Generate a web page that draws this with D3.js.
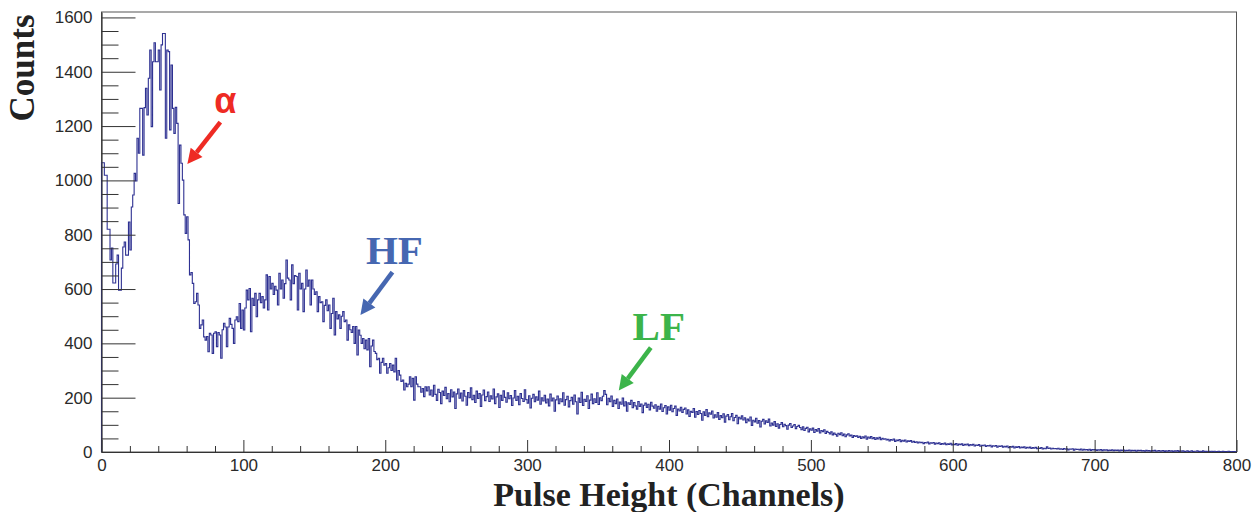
<!DOCTYPE html>
<html>
<head>
<meta charset="utf-8">
<script src="https://cdn.jsdelivr.net/npm/d3@7"></script>
<style>
  html, body { margin: 0; padding: 0; background: #fff; }
  svg { display: block; }
</style>
</head>
<body>
<svg id="chart" width="1253" height="512"></svg>
<script>
// ---------------- data ----------------
const binWidth = 1; // channels per bin
const counts = [
1065,1065,1019,1019,820,820,707,751,622,622,
692,725,596,596,677,755,773,725,725,847,
744,902,946,1026,998,1155,1100,1265,1265,1093,
1268,1339,1241,1376,1480,1198,1437,1507,1437,1437,
1480,1333,1499,1541,1541,1155,1480,1474,1186,1425,
1265,1173,1269,1210,915,1130,1063,1001,873,805,
866,781,652,661,621,547,553,584,541,455,
468,486,424,412,425,369,437,431,363,437,
443,388,440,431,345,450,474,460,388,460,
492,470,455,400,486,498,480,547,455,523,
449,530,596,560,602,443,566,540,584,498,
560,584,550,572,530,560,652,523,646,600,
621,580,610,596,541,658,600,633,566,620,
707,640,633,560,689,620,650,646,523,658,
600,621,517,600,670,610,633,541,633,600,
580,590,517,572,550,553,480,540,560,520,
541,455,510,566,431,517,490,505,455,500,
517,480,486,412,468,450,440,462,400,462,
357,449,430,400,418,380,412,376,418,314,
390,412,370,363,340,345,290,330,345,320,
326,290,310,326,300,320,295,345,265,300,
283,260,265,228,253,240,250,277,240,271,
191,277,250,240,240,220,234,204,240,225,
240,210,
228,205,246,212,190,231,219,178,224,208,238,196,215,185,229,203,221,160,214,232,
198,217,188,226,205,172,219,200,236,193,209,182,224,197,215,168,210,228,189,204,
221,186,207,195,232,178,203,214,164,209,190,225,201,183,218,196,208,171,199,226,
190,205,174,215,197,186,229,193,180,207,162,198,212,185,203,191,224,176,200,188,
209,181,195,170,213,188,199,150,192,206,178,196,185,218,172,193,205,166,189,201,
176,210,185,140,199,182,220,171,194,186,207,160,191,213,178,196,182,218,175,200,
189,205,226,212,174,198,185,206,168,190,178,195,160,184,176,199,170,185,150,181,
175,190,163,182,170,158,186,168,177,145,172,180,164,176,155,183,169,161,174,150,
168,158,177,149,163,171,140,166,154,172,148,160,169,135,158,151,165,146,157,162,
140,155,131,150,146,160,128,149,138,153,142,117,148,135,156,130,144,139,151,125,
137,128,145,120,134,126,141,110,132,138,119,130,142,115,127,135,104,128,122,133,
118,126,108,121,114,129,98,117,111,124,106,116,92,113,120,103,115,109,121,96,
107,99,112,94,104,88,101,108,93,102,97,84,99,105,90,96,101,86,94,98,
90,82,93,79,87,91,74,85,80,88,72,83,77,86,70,79,75,82,68,76,
72,66,74,63,70,65,58,69,64,71,60,66,56,63,67,59,62,54,61,57,
60,54,58,50,56,52,59,47,55,51,57,49,53,46,52,48,54,45,50,47,
49,44,47,41,46,43,48,39,44,42,46,38,43,40,44,37,41,39,42,36,
39,35,38,33,37,34,36,31,35,33,37,30,34,32,35,29,33,31,34,28,
31,29,33,27,30,28,32,26,29,27,31,25,29,27,30,24,28,26,29,23,
27,25,28,22,26,24,27,21,25,23,26,20,24,22,25,19,23,21,24,18,
22,20,23,18,21,19,22,16,20,18,21,15,19,17,20,15,18,16,19,14,
17,15,18,13,16,14,17,12,15,13,16,11,14,12,19,13,15,11,14,12,
13,11,14,10,12,9,13,10,12,8,11,10,12,7,11,9,10,8,11,7,
10,8,9,7,10,6,9,8,9,6,8,7,9,5,8,7,8,5,7,6,
8,5,7,6,7,4,7,6,7,4,6,5,7,4,6,5,6,3,6,5,
6,4,5,3,6,4,5,3,5,4,6,3,4,5,3,4,5,2,4,3,
5,3,4,2,4,3,5,2,4,3,4,2,3,4,2,3,4,2,3,3,
4,2,3,2,4,2,3,1,3,2,3,2,3,1,2,3,2,1,3,2,2,1,3,2,1,2,2,1
];
const xTickValues = [0, 100, 200, 300, 400, 500, 600, 700, 800];
const yTickValues = [0, 200, 400, 600, 800, 1000, 1200, 1400, 1600];
const xTitle = "Pulse Height (Channels)";
const yTitle = "Counts";
const annoText   = ["α", "HF", "LF"];
const annoColor  = ["#ee2b24", "#4667b1", "#3cb44a"];
// arrow tip positions in data coordinates [channel, counts]
const annoTipCh  = [60.5, 182.5, 364.6];
const annoTipCnt = [1060, 504, 226];

// ---------------- layout ----------------
const svg = d3.select("#chart");
const x = d3.scaleLinear().domain([0, 800]).range([101.5, 1236.5]);
const y = d3.scaleLinear().domain([0, 1620]).range([452, 12]);

// frame
svg.append("rect")
  .attr("x", x(0)).attr("y", y(1620))
  .attr("width", x(800) - x(0)).attr("height", y(0) - y(1620))
  .attr("fill", "none").attr("stroke", "#555").attr("stroke-width", 1);

// histogram
const pts = [[0, 0]];
counts.forEach((c, i) => pts.push([i * binWidth, c]));
pts.push([counts.length * binWidth, counts[counts.length - 1]]);
pts.push([counts.length * binWidth, 0]);
const line = d3.line().x(d => x(d[0])).y(d => y(d[1])).curve(d3.curveStepAfter);
svg.append("path")
  .attr("d", line(pts))
  .attr("fill", "none")
  .attr("stroke", "#2e3192")
  .attr("stroke-width", 1.1);

// axes
const tickFont = "'Liberation Sans', Arial, sans-serif";
const yMinor = d3.range(0, 1601, 50).filter(v => v % 200 !== 0);
const xMinor = d3.range(0, 801, 20).filter(v => v % 100 !== 0);

svg.append("g").attr("transform", `translate(${x(0)},0)`)
  .call(d3.axisLeft(y).tickValues(yTickValues).tickSizeInner(-34).tickSizeOuter(0).tickPadding(9).tickFormat(d3.format("d")));
svg.append("g").attr("transform", `translate(${x(0)},0)`)
  .call(d3.axisLeft(y).tickValues(yMinor).tickSizeInner(-17).tickSizeOuter(0).tickFormat(""))
  .select(".domain").remove();
svg.append("g").attr("transform", `translate(0,${y(0)})`)
  .call(d3.axisBottom(x).tickValues(xTickValues).tickSizeInner(-12).tickSizeOuter(0).tickPadding(7).tickFormat(d3.format("d")));
svg.append("g").attr("transform", `translate(0,${y(0)})`)
  .call(d3.axisBottom(x).tickValues(xMinor).tickSizeInner(-6).tickSizeOuter(0).tickFormat(""))
  .select(".domain").remove();

svg.selectAll(".tick line").attr("stroke", "#333").attr("stroke-width", 1);
svg.selectAll(".domain").attr("stroke", "#333").attr("stroke-width", 1.2);
svg.selectAll(".tick text")
  .attr("font-family", tickFont).attr("font-size", 17).attr("fill", "#2a2a2a");

// axis titles
const titleFont = "'Liberation Serif', 'Times New Roman', serif";
svg.append("text")
  .attr("x", (x(0) + x(800)) / 2).attr("y", 506)
  .attr("text-anchor", "middle")
  .attr("font-family", titleFont).attr("font-weight", "bold").attr("font-size", 34)
  .attr("fill", "#222")
  .text(xTitle);
svg.append("text")
  .attr("transform", "translate(34,68) rotate(-90)")
  .attr("text-anchor", "middle")
  .attr("font-family", titleFont).attr("font-weight", "bold").attr("font-size", 35)
  .attr("fill", "#222")
  .text(yTitle);

// annotations: arrows (start offset from tip in px) and labels
const arrowVec = [[33, -42], [32, -43], [32, -43]];
const labelOff = [[38, -51], [34, -51], [40, -51]];
annoText.forEach((t, i) => {
  const tx = x(annoTipCh[i]), ty = y(annoTipCnt[i]);
  const sx = tx + arrowVec[i][0], sy = ty + arrowVec[i][1];
  const len = Math.hypot(sx - tx, sy - ty);
  const ux = (sx - tx) / len, uy = (sy - ty) / len;
  const headLen = 15, headW = 7.5;
  const bx = tx + ux * headLen, by = ty + uy * headLen;
  svg.append("line")
    .attr("x1", sx).attr("y1", sy).attr("x2", bx).attr("y2", by)
    .attr("stroke", annoColor[i]).attr("stroke-width", 4.5);
  svg.append("path")
    .attr("d", `M${tx},${ty}L${bx - uy * headW},${by + ux * headW}L${bx + uy * headW},${by - ux * headW}Z`)
    .attr("fill", annoColor[i]);
  const isAlpha = i === 0;
  svg.append("text")
    .attr("x", tx + labelOff[i][0]).attr("y", ty + labelOff[i][1])
    .attr("text-anchor", "middle")
    .attr("font-family", isAlpha ? "'Liberation Sans', Arial, sans-serif" : titleFont)
    .attr("font-weight", "bold")
    .attr("font-size", isAlpha ? 36 : 41)
    .attr("fill", annoColor[i])
    .text(t);
});
</script>
</body>
</html>
